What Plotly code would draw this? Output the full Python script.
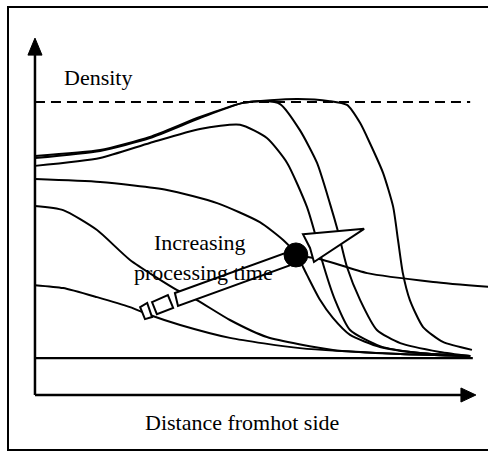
import plotly.graph_objects as go

# ---- data (distance from hot side: 0..1, relative density: full density = 1) ----
full_density = 1.0
initial_density = 0.126
baseline_distance = [0.0, 0.995]

c1_d = [0, 0.064, 0.141, 0.216, 0.261, 0.330, 0.443, 0.602, 0.830, 0.989]
c1_r = [0.375, 0.365, 0.334, 0.300, 0.273, 0.239, 0.195, 0.160, 0.140, 0.133]

c2_d = [0, 0.064, 0.141, 0.216, 0.323, 0.368, 0.443, 0.527, 0.677, 0.830, 0.989]
c2_r = [0.645, 0.631, 0.563, 0.461, 0.358, 0.324, 0.256, 0.198, 0.154, 0.140, 0.133]

c3_d = [0, 0.148, 0.300, 0.414, 0.511, 0.564, 0.595, 0.618, 0.648, 0.677, 0.716, 0.784, 0.875, 0.989]
c3_r = [0.737, 0.727, 0.700, 0.655, 0.590, 0.529, 0.478, 0.410, 0.324, 0.263, 0.205, 0.164, 0.143, 0.133]

c4_d = [0, 0.148, 0.261, 0.375, 0.466, 0.527, 0.573, 0.618, 0.636, 0.652, 0.682, 0.716, 0.784, 0.875, 0.989]
c4_r = [0.782, 0.809, 0.860, 0.908, 0.922, 0.877, 0.792, 0.642, 0.553, 0.461, 0.324, 0.222, 0.167, 0.143, 0.133]

c5_d = [0, 0.148, 0.261, 0.375, 0.473, 0.523, 0.557, 0.602, 0.641, 0.670, 0.689, 0.709, 0.739, 0.777, 0.830, 0.920, 0.989]
c5_r = [0.816, 0.836, 0.881, 0.949, 0.997, 1.003, 0.993, 0.904, 0.792, 0.655, 0.556, 0.437, 0.324, 0.222, 0.177, 0.147, 0.133]

c6_d = [0, 0.148, 0.261, 0.375, 0.473, 0.595, 0.670, 0.709, 0.739, 0.761, 0.791, 0.814, 0.825, 0.836, 0.852, 0.882, 0.927, 0.993]
c6_r = [0.809, 0.833, 0.877, 0.945, 0.997, 1.010, 1.003, 0.990, 0.928, 0.860, 0.758, 0.642, 0.529, 0.416, 0.324, 0.232, 0.181, 0.154]

tail_d = [0.595, 0.655, 0.755, 0.905, 1.03]
tail_r = [0.478, 0.461, 0.416, 0.386, 0.369]

curves = [(c1_d, c1_r), (c2_d, c2_r), (c3_d, c3_r), (c4_d, c4_r),
          (c5_d, c5_r), (c6_d, c6_r), (tail_d, tail_r)]

FONT = "Liberation Serif, Times New Roman, serif"

fig = go.Figure()

# initial (flat) density
fig.add_trace(go.Scatter(x=baseline_distance, y=[initial_density] * 2, mode="lines",
                         line=dict(color="black", width=2.2), hoverinfo="skip"))
# full density (dashed)
fig.add_trace(go.Scatter(x=[0, 0.989], y=[full_density] * 2, mode="lines",
                         line=dict(color="black", width=2, dash="10px,6px"), hoverinfo="skip"))
for dx, ry in curves:
    fig.add_trace(go.Scatter(x=dx, y=ry, mode="lines",
                             line=dict(color="black", width=2, shape="spline", smoothing=0.6),
                             hoverinfo="skip"))

shapes = []
# frame (left, top, bottom sides; right side is cut off in the original)
shapes.append(dict(type="path", xref="paper", yref="paper",
                   path="M 1.05 0.9845 L 0.0164 0.9845 L 0.0164 0.0044 L 1.05 0.0044",
                   line=dict(color="black", width=2)))
# axes with arrow heads
shapes.append(dict(type="line", x0=0, x1=0, y0=0, y1=1.18, line=dict(color="black", width=2.5)))
shapes.append(dict(type="path", path="M -0.016 1.160 L 0.016 1.160 L 0 1.218 Z",
                   fillcolor="black", line=dict(color="black", width=1)))
shapes.append(dict(type="line", x0=0, x1=0.97, y0=0, y1=0, line=dict(color="black", width=2.5)))
shapes.append(dict(type="path", path="M 0.968 0.024 L 0.968 -0.024 L 1.002 0 Z",
                   fillcolor="black", line=dict(color="black", width=1)))
# "increasing processing time" arrow
arrow_style = dict(fillcolor="white", line=dict(color="black", width=2), layer="above")
shapes.append(dict(type="path", path="M 0.239 0.300 L 0.255 0.314 L 0.266 0.266 L 0.250 0.259 Z", **arrow_style))
shapes.append(dict(type="path", path="M 0.266 0.317 L 0.302 0.341 L 0.314 0.297 L 0.277 0.276 Z", **arrow_style))
shapes.append(dict(type="path", path="M 0.318 0.348 L 0.575 0.488 L 0.582 0.444 L 0.325 0.304 Z", **arrow_style))
shapes.append(dict(type="path", path="M 0.609 0.549 L 0.748 0.567 L 0.634 0.454 L 0.625 0.502 Z", **arrow_style))
shapes.append(dict(type="circle", x0=0.566, x1=0.620, y0=0.437, y1=0.519,
                   fillcolor="black", line=dict(color="black", width=1), layer="above"))

annotations = [
    dict(x=0.143, y=1.084, text="Density"),
    dict(x=0.470, y=-0.094, text="Distance fromhot side"),
    dict(x=0.375, y=0.520, text="Increasing"),
    dict(x=0.382, y=0.418, text="processing time"),
]
for a in annotations:
    a.update(showarrow=False, xanchor="center", yanchor="middle",
             font=dict(family=FONT, size=22, color="black"))

fig.update_layout(
    width=488, height=452,
    margin=dict(l=0, r=0, t=0, b=0),
    paper_bgcolor="white", plot_bgcolor="white",
    showlegend=False,
    xaxis=dict(visible=False, range=[-0.0795, 1.0295], fixedrange=True),
    yaxis=dict(visible=False, range=[-0.1945, 1.3481], fixedrange=True),
    shapes=shapes, annotations=annotations,
)

fig.write_html("out.html", config={"displayModeBar": False},
               post_script="document.body.style.margin='0px';")
